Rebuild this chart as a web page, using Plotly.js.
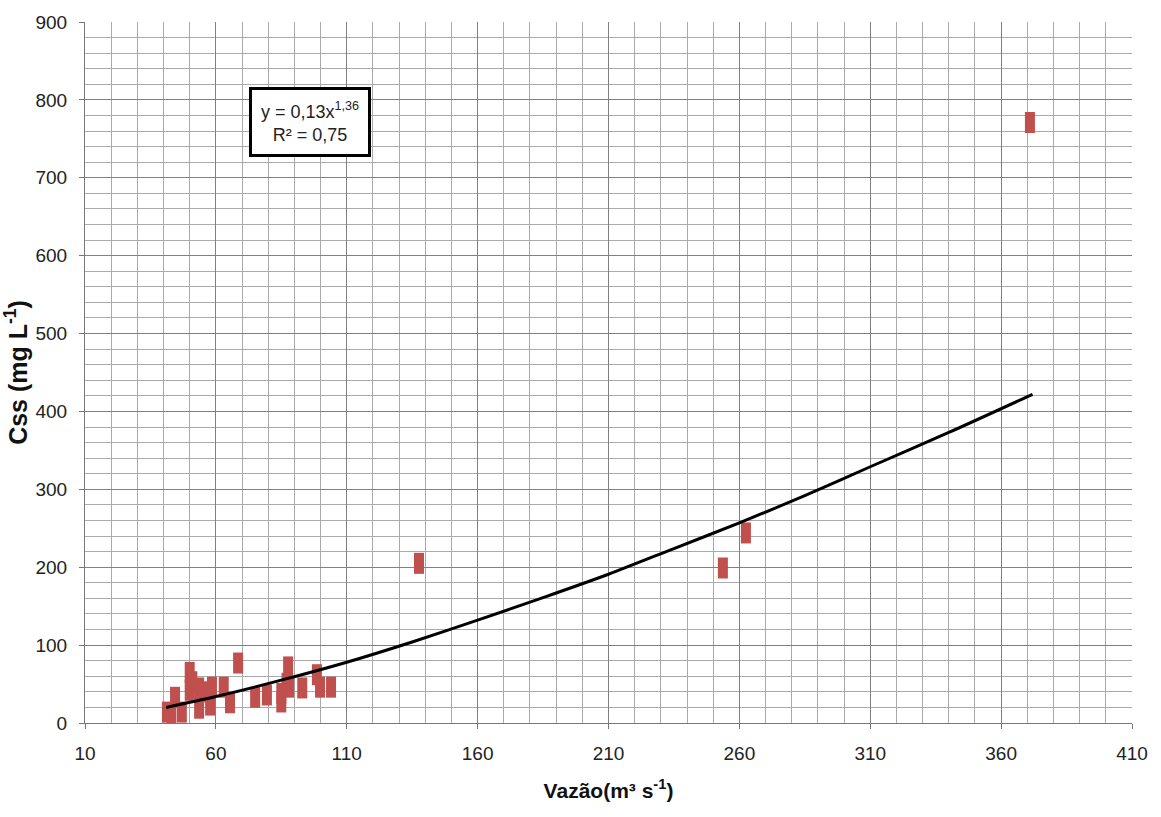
<!DOCTYPE html>
<html>
<head>
<meta charset="utf-8">
<script src="https://cdn.plot.ly/plotly-3.0.1.min.js"></script>
<style>html,body{margin:0;padding:0;background:#fff;}#chart{width:1161px;height:817px;}</style>
</head>
<body>
<div id="chart"></div>
<script>
// Observed points: discharge (m3/s) vs suspended sediment concentration (mg/L)
var vazao = [41.3, 43, 44.4, 47, 50, 51, 50, 53.6, 53.6, 55, 57.8, 58.5, 63, 65.4, 68.5, 75, 79.5, 85, 85, 87, 87.6, 88, 93, 98.6, 99.8, 104, 137.6, 253.7, 262.5, 371];
var css   = [14, 10, 33, 14, 65, 53, 42, 45, 19, 40, 23, 46, 46, 26, 77, 33, 36, 38, 27, 51, 72, 46, 45, 62, 46, 46, 205, 199, 244, 771];

// Power trendline
var trendX = [41, 60, 85, 110, 135, 160, 185, 210, 235, 260, 285, 310, 340, 372];
var trendY = [20, 34, 55, 78, 104, 132, 161, 191, 224, 257, 292, 329, 373, 422];

var xTicks = [10, 60, 110, 160, 210, 260, 310, 360, 410];
var yTicks = [0, 100, 200, 300, 400, 500, 600, 700, 800, 900];

var baseFamily = '"Liberation Sans Narrow", "Liberation Sans", Arial, sans-serif';
var tickFont = {family: baseFamily, size: 19, color: '#222'};
var xTitleFont = {family: baseFamily, size: 21, color: '#111', weight: 'bold'};
var yTitleFont = {family: baseFamily, size: 25, color: '#111', weight: 'bold'};

var traces = [
  {
    x: vazao, y: css, type: 'scatter', mode: 'markers',
    marker: {symbol: 'line-ns', size: 15, color: '#C0504D', line: {color: '#C0504D', width: 10}},
    hoverinfo: 'x+y', showlegend: false
  },
  {
    x: trendX, y: trendY, type: 'scatter', mode: 'lines',
    line: {color: '#000', width: 3, shape: 'spline', smoothing: 0.8},
    hoverinfo: 'skip', showlegend: false
  }
];

var layout = {
  width: 1161, height: 817,
  margin: {l: 85, r: 29, t: 22, b: 94},
  paper_bgcolor: '#fff', plot_bgcolor: '#fff',
  showlegend: false,
  xaxis: {
    range: [10, 410], tickvals: xTicks, ticktext: xTicks.map(String),
    showgrid: true, gridcolor: '#808080', gridwidth: 1,
    minor: {tick0: 10, dtick: 10, showgrid: true, gridcolor: '#aaaaaa', gridwidth: 1, ticks: ''},
    showline: true, linecolor: '#777', linewidth: 1,
    ticks: 'outside', ticklen: 5, tickcolor: '#777', ticklabelstandoff: 8,
    zeroline: false, tickfont: tickFont,
    title: {text: 'Vazão(m³ s<sup>-1</sup>)', font: xTitleFont, standoff: 20}
  },
  yaxis: {
    range: [0, 900], tickvals: yTicks, ticktext: yTicks.map(String),
    showgrid: true, gridcolor: '#808080', gridwidth: 1,
    minor: {tick0: 0, dtick: 20, showgrid: true, gridcolor: '#aaaaaa', gridwidth: 1, ticks: ''},
    showline: true, linecolor: '#777', linewidth: 1,
    ticks: 'outside', ticklen: 5, tickcolor: '#777', ticklabelstandoff: 8,
    zeroline: false, tickfont: tickFont,
    title: {text: 'Css (mg L<sup>-1</sup>)', font: yTitleFont, standoff: 8}
  },
  annotations: [{
    x: 96, y: 772, xref: 'x', yref: 'y', showarrow: false,
    text: 'y = 0,13x<sup>1,36</sup><br>R² = 0,75',
    font: {family: baseFamily, size: 18, color: '#222'},
    align: 'center', bgcolor: '#fff', bordercolor: '#000', borderwidth: 3, borderpad: 9
  }]
};

Plotly.newPlot('chart', traces, layout, {displayModeBar: false, staticPlot: true});
</script>
</body>
</html>
